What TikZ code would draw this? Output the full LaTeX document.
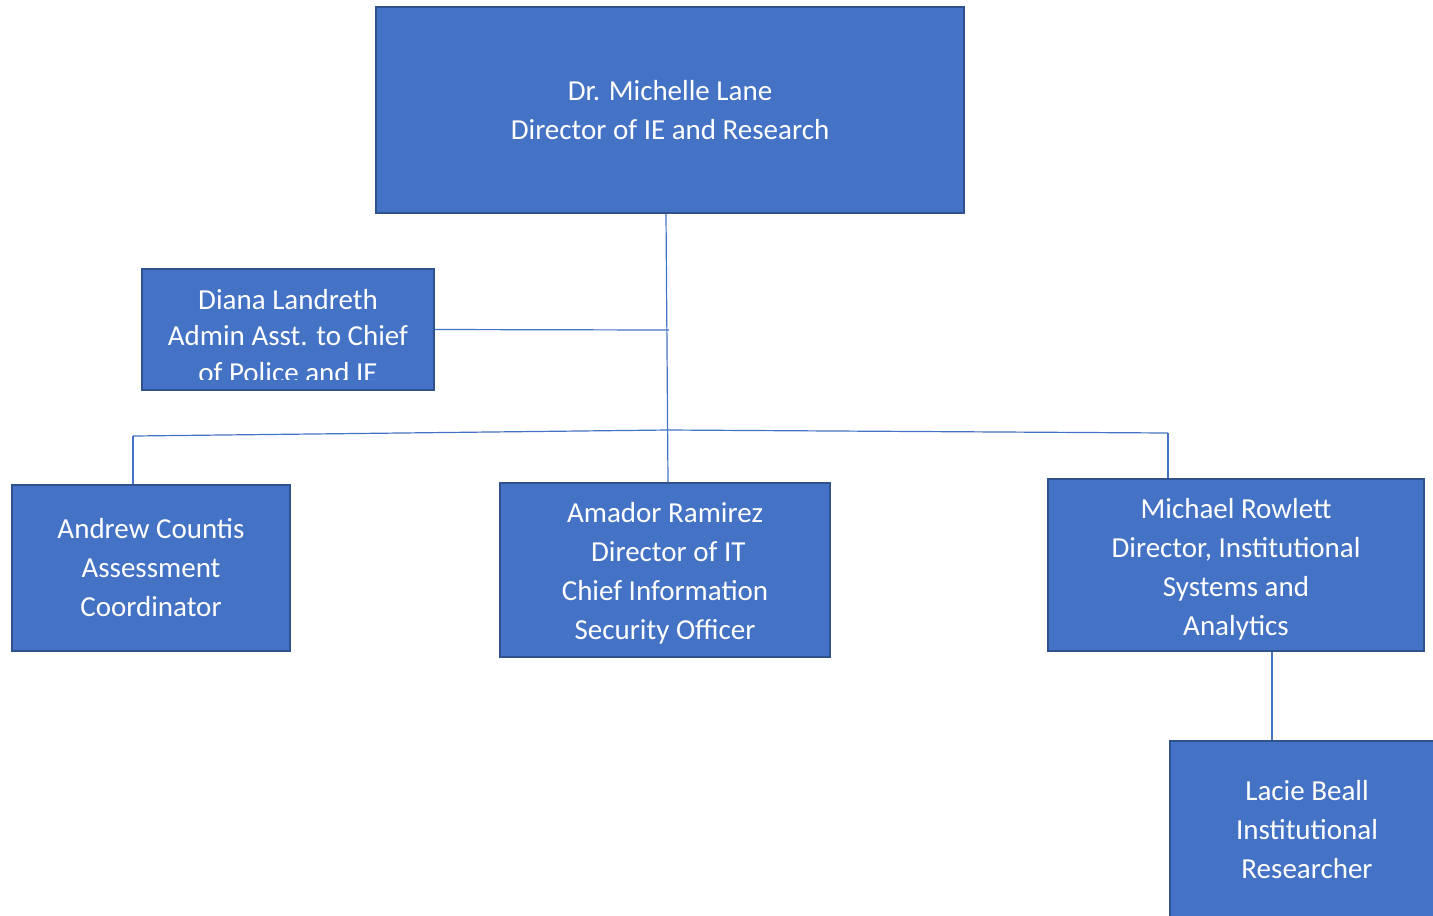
\documentclass[tikz,border=0pt]{standalone}
\usepackage{fontspec}
\setmainfont{Carlito}
\usetikzlibrary{calc}
\definecolor{boxfill}{HTML}{4472C4}
\definecolor{boxline}{HTML}{2F528F}
\definecolor{conn}{HTML}{4472C4}
\tikzset{
  orgbox/.style={draw=boxline, line width=1.6pt, fill=boxfill, text=white, align=center,
    inner sep=0pt, font=\fontsize{21.75pt}{29.25pt}\selectfont},
  link/.style={draw=conn, line width=0.9pt},
}
\begin{document}
\begin{tikzpicture}[x=0.75pt,y=-0.75pt]
\clip (0,0) rectangle (1433,915);
\fill[white] (0,0) rectangle (1433,915);
% boxes
\node[orgbox, minimum width=441pt, minimum height=154.5pt] (top) at (670,110)
  {Dr. Michelle Lane\\Director of IE and Research};
\node[orgbox, minimum width=219pt, minimum height=90.75pt] (diana) at (288,329.5) {};
\begin{scope}
\clip (143,270) rectangle (433,379);
\node[text=white, align=center, inner sep=0pt, font=\fontsize{21.75pt}{27.4pt}\selectfont] (dianat) at (288,336)
  {Diana Landreth\\Admin Asst. to Chief\\of Police and IE};
\end{scope}
\node[orgbox, minimum width=208.5pt, minimum height=124.5pt] (andrew) at (151,568)
  {Andrew Countis\\Assessment\\Coordinator};
\node[orgbox, minimum width=247.5pt, minimum height=130.5pt] (amador) at (665,570) {};
\node[text=white, align=center, inner sep=0pt, font=\fontsize{21.75pt}{29.25pt}\selectfont] (amadort) at (665,573)
  {Amador Ramirez\\\ Director of IT\\Chief Information\\Security Officer};
\node[orgbox, minimum width=282pt, minimum height=129pt] (michael) at (1236,565) {};
\node[text=white, align=center, inner sep=0pt, font=\fontsize{21.75pt}{29.25pt}\selectfont] (michaelt) at (1236,569)
  {Michael Rowlett\\Director, Institutional\\Systems and\\Analytics};
\node[orgbox, minimum width=205.5pt, minimum height=133.5pt] (lacie) at (1307,830)
  {Lacie Beall\\Institutional\\Researcher};
% junctions
\coordinate (j1) at (669,330);
\coordinate (j2) at (668,430);
\coordinate (j3) at (133,436);
\coordinate (j4) at (1168,433);
\coordinate (j5) at (1272,652);
% connectors
\draw[link] ([xshift=-3pt]top.south) -- ([xshift=2.25pt]amador.north);
\draw[link] (diana.east) -- (j1);
\draw[link] (j3) -- (j2) -- (j4);
\draw[link] (j3) -- (j3 |- andrew.north);
\draw[link] (j4) -- (j4 |- michael.north);
\draw[link] (j5 |- michael.south) -- (j5 |- lacie.north);
\end{tikzpicture}
\end{document}
